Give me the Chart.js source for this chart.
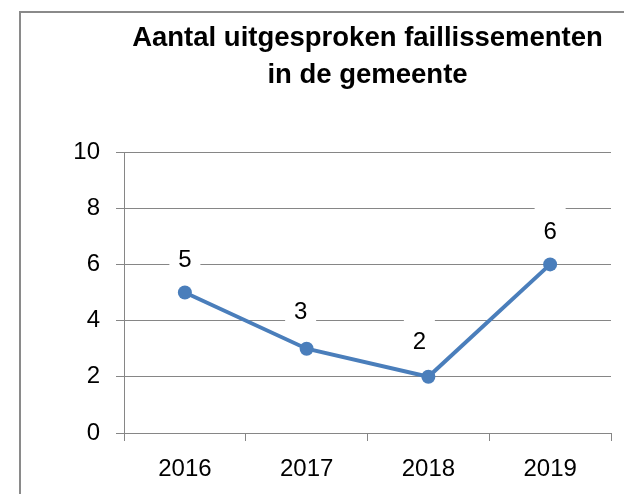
<!DOCTYPE html>
<html>
<head>
<meta charset="utf-8">
<script src="https://cdn.jsdelivr.net/npm/chart.js@4/dist/chart.umd.min.js"></script>
<style>
html,body{margin:0;padding:0;background:#fff;overflow:hidden;}
canvas{display:block;}
</style>
</head>
<body>
<canvas id="c" width="624" height="494"></canvas>
<script>
const categories = ["2016", "2017", "2018", "2019"];
const values = [5, 3, 2, 6];
const titleLines = ["Aantal uitgesproken faillissementen", "in de gemeente"];
const yMin = 0, yMax = 10, yStep = 2;

const FONT = "'Liberation Sans', Arial, sans-serif";
const GRID = "#868686";
const BLUE = "#4A7EBB";

const framePlugin = {
  id: 'frame',
  beforeDraw(chart) {
    const ctx = chart.ctx;
    ctx.save();
    ctx.fillStyle = '#fff';
    ctx.fillRect(0, 0, chart.width, chart.height);
    ctx.fillStyle = '#8a8a8a';
    ctx.fillRect(19, 11, 2, chart.height);
    ctx.fillRect(19, 11, chart.width, 2);
    ctx.restore();
  }
};

const labelPlugin = {
  id: 'boxLabels',
  afterDatasetsDraw(chart, args, opts) {
    const ctx = chart.ctx;
    const meta = chart.getDatasetMeta(0);
    ctx.save();
    ctx.font = "24px " + FONT;
    ctx.textAlign = 'center';
    ctx.textBaseline = 'alphabetic';
    meta.data.forEach((pt, i) => {
      const cx = pt.x + opts.dx[i];
      const cy = pt.y + opts.dy[i];
      ctx.fillStyle = '#fff';
      ctx.fillRect(cx - 15.5, cy - 24, 31, 36);
      ctx.fillStyle = '#000';
      ctx.fillText(String(values[i]), cx, cy + 8.5);
    });
    ctx.restore();
  }
};

new Chart(document.getElementById('c'), {
  type: 'line',
  data: {
    labels: categories,
    datasets: [{
      data: values,
      borderColor: BLUE,
      backgroundColor: BLUE,
      borderWidth: 4,
      pointRadius: 7,
      pointHoverRadius: 7,
      pointBackgroundColor: BLUE,
      pointBorderWidth: 0,
      tension: 0,
      fill: false
    }]
  },
  options: {
    responsive: false,
    animation: false,
    devicePixelRatio: 1,
    events: [],
    layout: { padding: { left: 0, right: 13, top: 0, bottom: 0 } },
    plugins: {
      legend: { display: false },
      tooltip: { enabled: false },
      title: {
        display: true,
        text: titleLines,
        fullSize: false,
        color: '#000',
        font: { family: FONT, size: 27.5, weight: 'bold', lineHeight: '37px' },
        padding: { top: 20, bottom: 58 }
      },
      boxLabels: { dx: [0, -6, -9, 0], dy: [-34, -38, -36, -34] }
    },
    scales: {
      x: {
        offset: true,
        afterFit(s) { s.height = 61; },
        grid: { drawOnChartArea: false, drawTicks: true, tickLength: 8, color: GRID, offset: true },
        border: { display: true, color: GRID },
        ticks: { color: '#000', font: { family: FONT, size: 24 }, padding: 14, maxRotation: 0 }
      },
      y: {
        min: yMin, max: yMax,
        afterFit(s) { s.width = 124; },
        grid: { color: GRID, tickLength: 8, drawTicks: true },
        border: { display: true, color: GRID },
        ticks: { stepSize: yStep, color: '#000', font: { family: FONT, size: 24 }, padding: 16 }
      }
    }
  },
  plugins: [framePlugin, labelPlugin]
});
</script>
</body>
</html>
